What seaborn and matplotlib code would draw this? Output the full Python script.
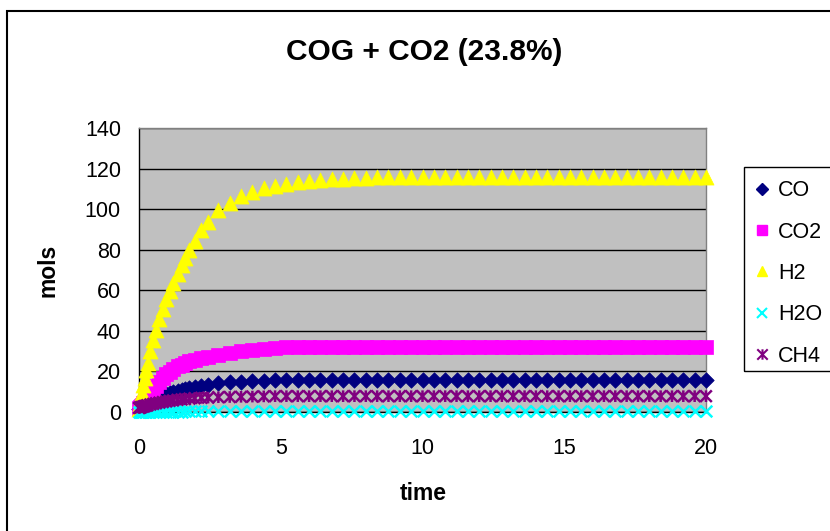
import matplotlib
matplotlib.use("Agg")
import matplotlib.pyplot as plt
from matplotlib.path import Path
from matplotlib.patches import Rectangle
from matplotlib.lines import Line2D
import pandas as pd
import seaborn as sns

# Simulation output: moles of each species vs. time
time = [0.0, 0.03, 0.06, 0.1, 0.15, 0.2, 0.25, 0.3, 0.4, 0.5,
        0.6, 0.72, 0.84, 0.96, 1.08, 1.2, 1.36, 1.5, 1.62, 1.78,
        1.96, 2.2, 2.44,
        2.8, 3.2, 3.6, 4.0, 4.4, 4.8, 5.2, 5.6, 6.0, 6.4,
        6.8, 7.2, 7.6, 8.0, 8.4, 8.8, 9.2, 9.6, 10.0, 10.4,
        10.8, 11.2, 11.6, 12.0, 12.4, 12.8, 13.2, 13.6, 14.0, 14.4,
        14.8, 15.2, 15.6, 16.0, 16.4, 16.8, 17.2, 17.6, 18.0, 18.4,
        18.8, 19.2, 19.6, 20.0]

co = [1.5, 1.8, 2.1, 2.5, 3.0, 3.4, 3.8, 4.2, 5.0, 5.8,
      6.5, 7.3, 8.1, 8.8, 9.4, 9.9, 10.5, 11.0, 11.4, 11.9,
      12.4, 13.0, 13.5,
      14.1, 14.6, 15.0, 15.3, 15.5, 15.6, 15.7, 15.8, 15.9, 15.9,
      16.0, 16.0, 16.0, 16.0, 16.0, 16.0, 16.0, 16.0, 16.0, 16.0,
      16.0, 16.0, 16.0, 16.0, 16.0, 16.0, 16.0, 16.0, 16.0, 16.0,
      16.0, 16.0, 16.0, 16.0, 16.0, 16.0, 16.0, 16.0, 16.0, 16.0,
      16.0, 16.0, 16.0, 16.0]

co2 = [2.0, 2.5, 3.0, 3.6, 4.4, 5.2, 6.0, 7.0, 9.0, 11.0,
       13.0, 15.0, 16.9, 18.5, 19.9, 21.2, 22.5, 23.4, 24.1, 24.9,
       25.7, 26.5, 27.3,
       28.3, 29.3, 30.1, 30.7, 31.2, 31.6, 31.8, 31.9, 32.0, 32.0,
       32.0, 32.0, 32.0, 32.0, 32.0, 32.0, 32.0, 32.0, 32.0, 32.0,
       32.0, 32.0, 32.0, 32.0, 32.0, 32.0, 32.0, 32.0, 32.0, 32.0,
       32.0, 32.0, 32.0, 32.0, 32.0, 32.0, 32.0, 32.0, 32.0, 32.0,
       32.0, 32.0, 32.0, 32.0]

h2 = [1.5, 4.0, 6.5, 9.5, 13.5, 17.0, 20.5, 24.0, 30.0, 35.5,
      40.5, 46.0, 51.0, 55.5, 59.5, 63.5, 68.0, 72.5, 76.0, 80.0,
      84.5, 89.5, 93.5,
      99.5, 103.0, 106.5, 108.6, 110.3, 111.3, 112.4, 113.2, 113.8, 114.2,
      114.7, 115.0, 115.3, 115.5, 115.6, 115.7, 115.8, 115.8, 115.8, 115.8,
      115.8, 115.8, 115.8, 115.8, 115.8, 115.8, 115.8, 115.8, 115.8, 115.8,
      115.8, 115.8, 115.8, 115.8, 115.8, 115.8, 115.8, 115.8, 115.8, 115.8,
      115.8, 115.8, 115.8, 115.8]

h2o = [0.0, 0.0, 0.0, 0.0, 0.0, 0.0, 0.0, 0.0, 0.05, 0.05,
       0.1, 0.1, 0.1, 0.15, 0.15, 0.2, 0.2, 0.2, 0.25, 0.25,
       0.25, 0.3, 0.3,
       0.3, 0.3, 0.3, 0.3, 0.3, 0.3, 0.3, 0.3, 0.3, 0.3,
       0.3, 0.3, 0.3, 0.3, 0.3, 0.3, 0.3, 0.3, 0.3, 0.3,
       0.3, 0.3, 0.3, 0.3, 0.3, 0.3, 0.3, 0.3, 0.3, 0.3,
       0.3, 0.3, 0.3, 0.3, 0.3, 0.3, 0.3, 0.3, 0.3, 0.3,
       0.3, 0.3, 0.3, 0.3]

ch4 = [2.0, 2.1, 2.3, 2.5, 2.7, 2.9, 3.1, 3.3, 3.7, 4.0,
       4.3, 4.6, 4.9, 5.2, 5.5, 5.7, 6.0, 6.2, 6.4, 6.6,
       6.8, 7.0, 7.1,
       7.3, 7.4, 7.5, 7.6, 7.7, 7.8, 7.8, 7.8, 7.8, 7.8,
       7.8, 7.8, 7.8, 7.8, 7.8, 7.8, 7.8, 7.8, 7.8, 7.8,
       7.8, 7.8, 7.8, 7.8, 7.8, 7.8, 7.8, 7.8, 7.8, 7.8,
       7.8, 7.8, 7.8, 7.8, 7.8, 7.8, 7.8, 7.8, 7.8, 7.8,
       7.8, 7.8, 7.8, 7.8]

species = ["CO", "CO2", "H2", "H2O", "CH4"]
x_ticks = [0, 5, 10, 15, 20]
y_ticks = [0, 20, 40, 60, 80, 100, 120, 140]

df = pd.DataFrame({
    "time": time * 5,
    "mols": co + co2 + h2 + h2o + ch4,
    "species": [s for s in species for _ in time],
})

sns.set_style("white")
plt.rcParams["font.family"] = ["Liberation Sans", "DejaVu Sans"]
for key in ["text.color", "axes.labelcolor", "xtick.color", "ytick.color"]:
    plt.rcParams[key] = "black"

# star marker: an X crossed by a vertical bar
star = Path([(-1, -1), (1, 1), (-1, 1), (1, -1), (0, -1), (0, 1)],
            [Path.MOVETO, Path.LINETO, Path.MOVETO, Path.LINETO,
             Path.MOVETO, Path.LINETO])

styles = {
    "CO":  dict(marker="D", color="#000080", s=62, kind="filled"),
    "CO2": dict(marker="s", color="#FF00FF", s=92, kind="filled"),
    "H2":  dict(marker="^", color="#FFFF00", s=118, kind="filled"),
    "H2O": dict(marker="x", color="#00FFFF", s=70, kind="line"),
    "CH4": dict(marker=star, color="#800080", s=70, kind="path"),
}

W, H = 830, 531
fig = plt.figure(figsize=(W / 100, H / 100), dpi=100)
fig.patch.set_facecolor("white")

x0, x1, y_top, y_bot = 139, 706, 128, 412
ax = fig.add_axes([x0 / W, 1 - y_bot / H, (x1 - x0) / W, (y_bot - y_top) / H])
ax.set_facecolor("#C0C0C0")

for sp in species:
    st = styles[sp]
    sub = df[df["species"] == sp]
    common = dict(data=sub, x="time", y="mols", ax=ax, marker=st["marker"],
                  s=st["s"], legend=False, zorder=3, clip_on=False)
    if st["kind"] == "filled":
        sns.scatterplot(**common, color=st["color"], edgecolor=st["color"],
                        linewidth=0.5)
    elif st["kind"] == "line":
        sns.scatterplot(**common, color=st["color"], linewidth=1.8)
    else:
        sns.scatterplot(**common, edgecolor=st["color"], facecolor="none",
                        linewidth=1.8)

ax.set_xlim(0, 20)
ax.set_ylim(0, 140)
ax.set_xticks(x_ticks)
ax.set_yticks(y_ticks)
ax.set_xticklabels([str(v) for v in x_ticks])
ax.set_yticklabels([str(v) for v in y_ticks])
ax.yaxis.grid(True, color="black", linewidth=1.0, zorder=1)
ax.set_axisbelow(True)
ax.xaxis.grid(False)
ax.set_xlabel("")
ax.set_ylabel("")

for side in ["top", "right"]:
    ax.spines[side].set_color("#808080")
    ax.spines[side].set_linewidth(1.0)
for side in ["left", "bottom"]:
    ax.spines[side].set_color("black")
    ax.spines[side].set_linewidth(1.0)

ax.tick_params(axis="y", direction="out", length=5, width=1, color="black",
               labelsize=15.5, pad=8)
ax.tick_params(axis="x", direction="out", length=5, width=1, color="black",
               labelsize=15.5, pad=14)

# titles
fig.text(424 / W, 1 - 52 / H, "COG + CO2 (23.8%)", ha="center", va="center",
         fontsize=21.5, fontweight="bold")
fig.text(423 / W, 1 - 493 / H, "time", ha="center", va="center",
         fontsize=16.5, fontweight="bold")
fig.text(48 / W, 1 - 270 / H, "mols", ha="center", va="center",
         fontsize=16.5, fontweight="bold", rotation=90)

# chart border
fig.patches.append(Rectangle((7 / W, -0.1), 1.2, 1 - 11 / H + 0.1,
                             transform=fig.transFigure, fill=False,
                             edgecolor="black", linewidth=1.5))

# legend box
fig.patches.append(Rectangle((744 / W, 1 - 371 / H), 0.2, (371 - 167) / H,
                             transform=fig.transFigure, fill=False,
                             edgecolor="black", linewidth=1.0))
handles = []
for sp in species:
    st = styles[sp]
    if st["kind"] == "filled":
        h = Line2D([], [], linestyle="none", marker=st["marker"],
                   markerfacecolor=st["color"], markeredgecolor=st["color"],
                   markersize=7.5 if sp != "CO" else 6)
    else:
        h = Line2D([], [], linestyle="none", marker=st["marker"],
                   color=st["color"], markerfacecolor="none",
                   markeredgecolor=st["color"], markersize=7.5,
                   markeredgewidth=1.5)
    handles.append(h)
fig.legend(handles, species, loc="upper left",
           bbox_to_anchor=(738 / W, 1 - 165 / H), frameon=False,
           fontsize=15.5, handlelength=0.8, handletextpad=0.35,
           labelspacing=0.95, borderpad=0.2)

fig.savefig("out.png", dpi=100)
